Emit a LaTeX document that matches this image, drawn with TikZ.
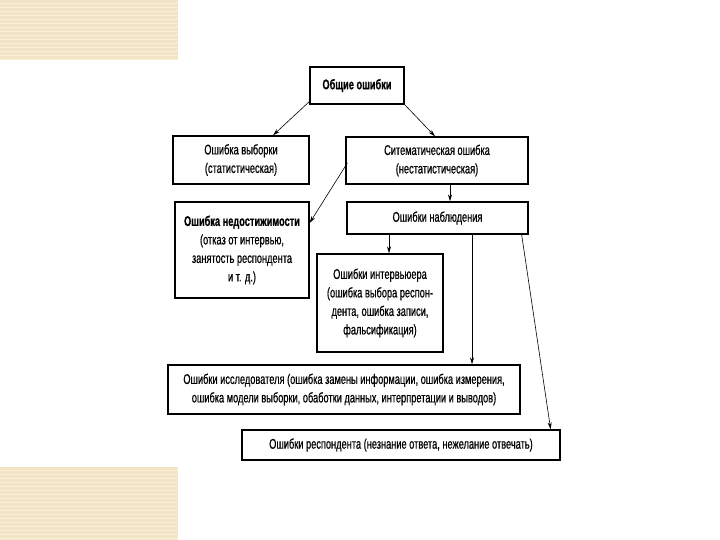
\documentclass[tikz,border=0pt]{standalone}
\usepackage{fontspec}
\setmainfont{Liberation Sans}[FakeStretch=0.66, FakeBold=0.6]
\usetikzlibrary{arrows.meta}
\definecolor{patch}{RGB}{242,228,196}
\definecolor{patchlight}{RGB}{249,240,214}
\tikzset{
  box/.style={draw=black, line width=1.3pt, fill=white, align=center, inner sep=2pt,
              font=\fontsize{14}{18.5}\selectfont},
  conn/.style={draw=black, line width=0.6pt, -{Stealth[length=7pt,width=4pt]}},
}
\begin{document}
\begin{tikzpicture}[x=1pt,y=-1pt]
\useasboundingbox (0,0) rectangle (720,540);
% decorative patches
\fill[patch] (0,0) rectangle (178,60);
\fill[patch] (0,467) rectangle (178,540);
\foreach \yy in {3,7,...,59} { \draw[patchlight, line width=0.8pt] (0,\yy) -- (178,\yy); }
\foreach \yy in {470,474,...,540} { \draw[patchlight, line width=0.8pt] (0,\yy) -- (178,\yy); }
% nodes
\node[box, minimum width=94pt, minimum height=37pt] (gen) at (357,85.5) {\bfseries Общие ошибки};
\node[box, minimum width=136pt, minimum height=48pt] (vyb) at (241,160) {Ошибка выборки\\(статистическая)};
\node[box, minimum width=182pt, minimum height=47pt] (sis) at (437,160.5) {Ситематическая ошибка\\(нестатистическая)};
\node[box, minimum width=134pt, minimum height=96pt] (ned) at (242,250) {\bfseries Ошибка недостижимости\\(отказ от интервью,\\занятость респондента\\и т. д.)};
\node[box, minimum width=181pt, minimum height=32pt] (nab) at (437.5,218) {Ошибки наблюдения};
\node[box, minimum width=126pt, minimum height=98pt] (int) at (380,303) {Ошибки интервьюера\\(ошибка выбора респон-\\дента, ошибка записи,\\фальсификация)};
\node[box, minimum width=352pt, minimum height=49pt] (isl) at (344,389.5) {Ошибки исследователя (ошибка замены информации, ошибка измерения,\\ошибка модели выборки, обаботки данных, интерпретации и выводов)};
\node[box, minimum width=318pt, minimum height=30pt] (res) at (401,445) {Ошибки респондента (незнание ответа, нежелание отвечать)};
% connectors
\draw[conn] ([xshift=1pt,yshift=4pt]gen.south west) -- ([xshift=32pt]vyb.north);
\draw[conn] (gen.south east) -- ([xshift=-2pt]sis.north);
\draw[conn] ([xshift=2pt,yshift=-2.5pt]sis.west) -- ([yshift=27pt]ned.east);
\draw[conn] ([xshift=13pt]sis.south) -- ([xshift=12.5pt]nab.north);
\draw[conn] ([xshift=-48.5pt]nab.south) -- ([xshift=9pt]int.north);
\draw[conn] ([xshift=34.5pt]nab.south) -- ([xshift=128pt]isl.north);
\draw[conn] ([xshift=-7pt]nab.south east) -- ([xshift=-10pt]res.north east);
\end{tikzpicture}
\end{document}
